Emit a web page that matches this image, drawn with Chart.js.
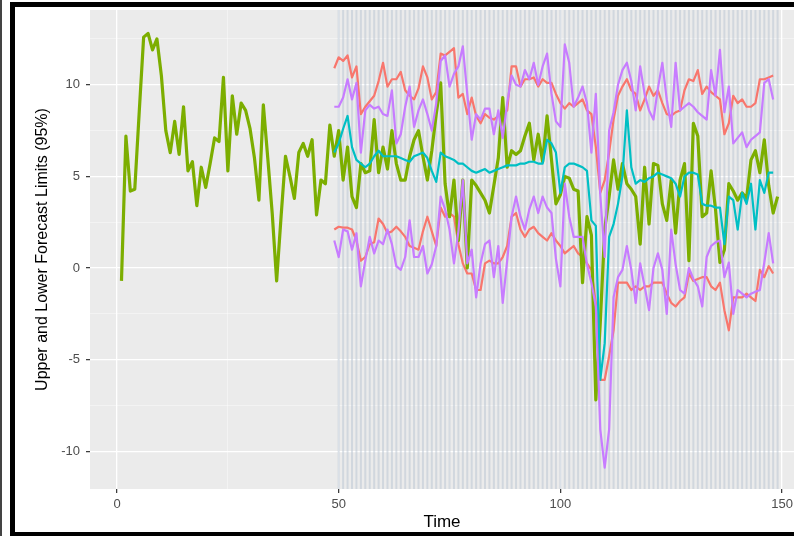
<!DOCTYPE html>
<html>
<head>
<meta charset="utf-8">
<script src="https://cdn.jsdelivr.net/npm/chart.js@4.4.1/dist/chart.umd.min.js"></script>
<style>
  html, body { margin: 0; padding: 0; background: #fff; }
  canvas { display: block; }
</style>
</head>
<body>
<canvas id="chart" width="794" height="536"></canvas>
<script>
// observed series, time 1..149
const obsStart = 1;
const observed = [
  -0.7, 7.2, 4.2, 4.3, 8.5, 12.6, 12.8, 11.9, 12.5, 10.5,
  7.5, 6.3, 8.0, 6.2, 8.8, 5.3, 5.8, 3.4, 5.5, 4.4,
  5.7, 7.1, 6.9, 10.4, 5.3, 9.4, 7.3, 9.0, 8.6, 7.6,
  6.0, 3.7, 8.9, 6.0, 3.0, -0.7, 2.8, 6.1, 5.0, 3.8,
  6.3, 6.8, 6.1, 7.0, 2.9, 4.8, 4.6, 7.8, 6.1, 7.5,
  4.8, 6.6, 3.9, 3.3, 5.7, 5.2, 5.3, 8.1, 5.2, 6.6,
  5.4, 7.5, 5.7, 4.8, 4.8, 6.1, 7.0, 7.5, 6.1, 4.8,
  6.4, 8.4, 10.1, 4.6, 2.8, 4.8, 1.5, 4.8, 0.0, 4.8,
  4.5, 4.1, 3.7, 3.0, 4.5, 6.0, 9.3, 5.5, 6.4, 6.2,
  6.4, 7.2, 7.9, 5.9, 7.3, 5.8, 8.3, 5.9, 3.5, 4.0,
  5.0, 4.9, 4.3, 4.2, -0.8, 2.8, 1.8, -7.2, -3.0, 2.1,
  3.9, 5.9, 4.3, 5.7, 4.6, 4.3, 3.9, 1.3, 5.5, 2.4,
  5.7, 5.6, 3.5, 2.6, 4.8, 1.9, 4.8, 5.7, 0.4, 7.9,
  7.2, 2.8, 3.0, 5.3, 3.2, 0.3, 1.0, 4.6, 4.2, 3.7,
  4.1, 3.8, 5.9, 6.4, 5.2, 7.0, 4.5, 3.0, 3.9
];

// forecast series, time 49..148
const fcStart = 49;
const redUpper = [
  10.9, 11.5, 11.3, 11.6, 10.4, 11.0, 8.4, 8.8, 9.1, 9.4,
  10.2, 11.2, 9.9, 10.3, 10.3, 10.7, 9.7, 9.4, 9.2, 9.8,
  11.0, 10.4, 9.2, 9.6, 11.7, 11.6, 11.8, 12.0, 9.3, 9.5,
  8.4, 9.3, 8.3, 7.9, 8.4, 8.2, 8.1, 8.3, 8.4, 8.6,
  11.0, 11.0, 9.9, 10.3, 10.3, 10.4, 9.9, 10.3, 10.1, 10.1,
  9.5, 9.0, 8.7, 9.0, 8.8, 9.0, 9.2, 8.6, 8.4, 6.6,
  4.1, 4.8, 6.3, 8.1, 9.4, 9.9, 10.3, 9.7, 9.5, 8.6,
  9.2, 9.9, 9.4, 9.7, 9.0, 8.4, 8.3, 8.5, 8.6, 9.7,
  10.3, 10.2, 10.8, 9.5, 9.9, 9.6, 9.4, 9.2, 7.3, 7.9,
  9.4, 9.0, 9.2, 8.8, 8.8, 9.0, 10.3, 10.3, 10.4, 10.5
];
const redLower = [
  2.1, 2.25, 2.2, 2.2, 2.1, 1.5, 0.4, 0.6, 1.3, 1.4,
  2.7, 2.4, 1.9, 2.0, 2.25, 2.0, 1.7, 1.2, 1.1, 1.0,
  2.0, 2.8, 2.0, 1.2, 3.3, 2.8, 3.0, 2.8, 1.3, 0.25,
  -0.3, -0.3, -1.2, -1.2, 0.25, 0.4, 0.25, 0.25, 0.6, 1.2,
  2.8, 3.0, 2.1, 1.7, 2.1, 2.25, 1.9, 1.7, 1.5, 1.9,
  1.5, 1.2, 0.8, 1.0, 1.2, 0.8, 0.6, 0.25, -0.1, -1.9,
  -6.1, -6.1, -4.8, -3.4, -0.8, -0.8, -0.8, -1.2, -1.0, -1.2,
  -1.0, -1.0, -0.8, -0.8, -0.8, -1.4, -1.9, -2.1, -1.8, -1.6,
  -0.3, -0.7, -0.6, -0.5, -0.5, -1.0, -1.2, -0.8, -2.3, -3.4,
  -1.6, -1.6, -1.6, -1.4, -1.6, -1.8, -0.1, -0.5, 0.1, -0.3
];
const purpleUpper = [
  8.8, 8.8, 9.3, 10.3, 9.2, 10.1, 6.3, 8.6, 8.9, 8.7,
  8.8, 8.4, 8.3, 9.7, 6.8, 7.3, 8.8, 9.9, 7.7, 8.6,
  9.2, 8.4, 7.5, 9.0, 11.3, 11.6, 9.9, 10.6, 11.0, 12.1,
  9.5, 7.0, 8.4, 8.1, 8.7, 8.7, 7.3, 8.6, 7.1, 9.0,
  10.5, 10.0, 9.9, 10.8, 10.3, 11.2, 10.0, 11.0, 11.7, 9.5,
  8.0, 7.7, 12.2, 11.2, 8.8, 9.3, 9.9, 9.0, 6.3, 9.5,
  4.0, 0.6, 7.5, 8.5, 10.0, 10.8, 11.2, 10.2, 8.6, 11.0,
  9.5, 8.6, 8.1, 9.8, 11.2, 9.2, 7.7, 11.2, 8.6, 8.8,
  9.0, 8.8, 8.5, 8.3, 8.1, 10.8, 9.4, 11.9, 8.5, 9.9,
  6.8, 7.1, 7.4, 6.6, 7.0, 7.2, 7.4, 10.1, 10.3, 9.2
];
const purpleLower = [
  1.5, 0.6, 2.1, 2.0, 1.0, 1.9, -1.0, 0.4, 1.7, 0.8,
  1.5, 1.3, 2.1, 1.3, 0.1, -0.1, 0.6, 2.6, 0.6, 0.6,
  1.2, -0.3, 0.2, 1.2, 3.9, 3.2, 2.1, 0.25, 2.0, 4.8,
  0.25, 1.0, -1.6, 0.25, 1.3, 1.5, -0.5, 1.2, -1.9, 0.4,
  2.8, 3.9, 2.8, 2.1, 3.2, 3.9, 3.0, 3.9, 3.3, 3.0,
  0.5, -1.0, 4.6, 2.8, 1.7, 1.7, 1.7, 0.2, -0.8, -2.1,
  -8.8, -10.9, -8.8, -1.6, -0.5, -0.1, 1.2, -0.1, -1.9, 0.25,
  -1.0, -2.3, 0.0, 0.8, -0.1, -2.5, 2.1, 0.2, -1.2, -1.4,
  0.0, -0.6, -1.0, -2.1, 0.6, 1.2, 1.4, 1.5, -0.5, 0.3,
  -2.5, -1.2, -1.4, -1.6, -1.4, -1.3, -1.2, 0.3, 1.9, 0.25
];
const cyanMean = [
  6.3, 6.8, 7.6, 8.3, 6.6, 5.9, 5.7, 5.5, 5.7, 6.1,
  6.4, 6.1, 6.1, 6.1, 6.1, 6.0, 5.9, 5.8, 6.1, 6.2,
  6.3, 6.0, 5.3, 4.7, 6.3, 6.1, 6.0, 5.9, 5.7, 5.7,
  5.5, 5.3, 5.2, 5.3, 5.4, 5.2, 5.3, 5.4, 5.5, 5.6,
  5.6, 5.6, 5.7, 5.7, 5.8, 5.8, 5.7, 5.7, 7.0, 6.8,
  6.3, 4.1, 5.5, 5.7, 5.7, 5.6, 5.5, 5.3, 2.6, 2.3,
  -6.1, -4.1, 1.7, 2.4, 3.5, 5.0, 8.6, 5.5, 4.6, 4.8,
  4.7, 4.9, 5.0, 5.2, 5.1, 5.0, 4.9, 4.6, 3.9, 5.0,
  5.2, 5.2, 5.1, 3.5, 3.4, 3.4, 3.3, 3.3, 1.3, 3.9,
  3.7, 2.1, 4.1, 3.5, 4.6, 2.1, 4.8, 4.1, 5.2, 5.2
];

// shaded forecast steps
const stripeFrom = 50;
const stripeTo = 149;

// axes
const xGrid = [0, 25, 50, 75, 100, 125, 150];
const xLabels = [0, 50, 100, 150];
const yGrid = [-10, -7.5, -5, -2.5, 0, 2.5, 5, 7.5, 10, 12.5];
const yLabels = [-10, -5, 0, 5, 10];

const toPoints = (values, start) => values.map((v, i) => ({ x: start + i, y: v }));

const FONT = "'Liberation Sans', Arial, sans-serif";

const ggPanel = {
  id: "ggPanel",
  beforeDraw(chart) {
    const { ctx, chartArea: a } = chart;
    ctx.save();
    ctx.fillStyle = "#ffffff";
    ctx.fillRect(0, 0, chart.width, chart.height);
    ctx.fillStyle = "#ebebeb";
    ctx.fillRect(a.left, a.top, a.right - a.left, a.bottom - a.top);
    ctx.restore();
  },
  beforeDatasetsDraw(chart) {
    const { ctx, chartArea: a, scales } = chart;
    ctx.save();
    ctx.strokeStyle = "rgba(188, 198, 212, 0.55)";
    ctx.lineWidth = 2;
    for (let t = stripeFrom; t <= stripeTo; t++) {
      const px = scales.x.getPixelForValue(t);
      if (px > a.right) break;
      ctx.beginPath();
      ctx.moveTo(px, a.top);
      ctx.lineTo(px, a.bottom);
      ctx.stroke();
    }
    ctx.restore();
  },
  afterDraw(chart) {
    const ctx = chart.ctx;
    ctx.save();
    ctx.fillStyle = "#444";
    ctx.fillRect(0, 0, 2, chart.height);
    ctx.fillStyle = "#000";
    ctx.fillRect(10, 2, chart.width - 10, 5);
    ctx.fillRect(10, 2, 5, chart.height - 2);
    ctx.fillRect(10, chart.height - 4, chart.width - 10, 4);
    ctx.restore();
  }
};

const line = (values, start, color, width) => ({
  data: toPoints(values, start),
  borderColor: color,
  backgroundColor: color,
  borderWidth: width,
  pointRadius: 0,
  tension: 0,
  fill: false,
  borderJoinStyle: "round"
});

const isMajor = (v, list) => list.some((m) => Math.abs(m - v) < 1e-9);

new Chart(document.getElementById("chart"), {
  type: "line",
  data: {
    datasets: [
      line(purpleUpper, fcStart, "#C77CFF", 2.2),
      line(purpleLower, fcStart, "#C77CFF", 2.2),
      line(cyanMean, fcStart, "#00BFC4", 2.2),
      line(observed, obsStart, "#7CAE00", 3.2),
      line(redUpper, fcStart, "#F8766D", 2.2),
      line(redLower, fcStart, "#F8766D", 2.2)
    ]
  },
  options: {
    responsive: false,
    animation: false,
    layout: { padding: { left: 15, top: 10, right: 0, bottom: 0 } },
    plugins: { legend: { display: false }, tooltip: { enabled: false } },
    scales: {
      x: {
        type: "linear",
        min: -6.1,
        max: 152.7,
        afterBuildTicks: (s) => { s.ticks = xGrid.map((v) => ({ value: v })); },
        afterFit: (s) => { s.height = 47; s.paddingLeft = 0; s.paddingRight = 0; },
        ticks: {
          autoSkip: false,
          maxRotation: 0,
          padding: 4,
          color: "#4d4d4d",
          font: { family: FONT, size: 13 },
          callback: (v) => (isMajor(v, xLabels) ? String(v) : "")
        },
        grid: {
          color: (c) => (c.tick && isMajor(c.tick.value, xLabels) ? "#ffffff" : "rgba(255,255,255,0.6)"),
          lineWidth: (c) => (c.tick && isMajor(c.tick.value, xLabels) ? 1.3 : 0.7),
          tickColor: (c) => (c.tick && isMajor(c.tick.value, xLabels) ? "#333333" : "rgba(0,0,0,0)"),
          tickLength: 4,
          tickWidth: 1.2
        },
        border: { display: false },
        title: {
          display: true,
          text: "Time",
          color: "#000",
          font: { family: FONT, size: 17 },
          padding: { top: 0, bottom: 3 }
        }
      },
      y: {
        min: -12.06,
        max: 14.08,
        afterBuildTicks: (s) => { s.ticks = yGrid.map((v) => ({ value: v })); },
        afterFit: (s) => { s.width = 75; s.paddingTop = 0; s.paddingBottom = 0; },
        ticks: {
          autoSkip: false,
          padding: 6,
          color: "#4d4d4d",
          font: { family: FONT, size: 13 },
          callback: (v) => (isMajor(v, yLabels) ? String(v) : "")
        },
        grid: {
          color: (c) => (c.tick && isMajor(c.tick.value, yLabels) ? "#ffffff" : "rgba(255,255,255,0.6)"),
          lineWidth: (c) => (c.tick && isMajor(c.tick.value, yLabels) ? 1.3 : 0.7),
          tickColor: (c) => (c.tick && isMajor(c.tick.value, yLabels) ? "#333333" : "rgba(0,0,0,0)"),
          tickLength: 4,
          tickWidth: 1.2
        },
        border: { display: false },
        title: {
          display: true,
          text: "Upper and Lower Forecast Limits (95%)",
          color: "#000",
          font: { family: FONT, size: 16 },
          padding: { top: 18, bottom: 0 }
        }
      }
    }
  },
  plugins: [ggPanel]
});
</script>
</body>
</html>
